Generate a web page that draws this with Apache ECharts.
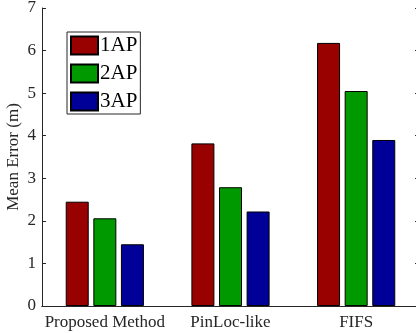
<!DOCTYPE html>
<html>
<head>
<meta charset="UTF-8">
<title></title>
<style>
	html, body { margin: 0; padding: 0; background: #fff; }
	#chart { width: 416px; height: 333px; }
</style>
<script src="https://cdn.jsdelivr.net/npm/echarts@6/dist/echarts.min.js"></script>
</head>
<body>
<div id="chart"></div>
<script>
	var categories = ['Proposed Method', 'PinLoc-like', 'FIFS'];
	var ap1 = [2.45, 3.82, 6.18];
	var ap2 = [2.06, 2.79, 5.05];
	var ap3 = [1.45, 2.22, 3.90];
	var seriesNames = ['1AP', '2AP', '3AP'];
	var colors = ['#990000', '#009900', '#000099'];

	var font = 'Liberation Serif';
	var ink = '#262626';

	function bar(name, data, color) {
		return {
			name: name,
			type: 'bar',
			data: data,
			barWidth: 23,
			barGap: '20%',
			itemStyle: { color: color, borderColor: '#000', borderWidth: 1 }
		};
	}

	var chart = echarts.init(document.getElementById('chart'));
	chart.setOption({
		animation: false,
		color: colors,
		grid: { left: 42, right: -3, top: 8, bottom: 27, outerBoundsMode: 'none', containLabel: false },
		legend: {
			orient: 'vertical',
			left: 67,
			top: 32,
			data: seriesNames,
			icon: 'rect',
			itemWidth: 27,
			itemHeight: 18,
			itemGap: 7,
			padding: [3, 3, 2, 3],
			borderColor: ink,
			borderWidth: 1,
			backgroundColor: '#fff',
			textStyle: { fontFamily: font, fontSize: 21, color: '#000', padding: [0, 0, 0, -3] }
		},
		xAxis: [
			{
				type: 'category',
				data: categories,
				position: 'bottom',
				axisLine: { lineStyle: { color: ink, width: 1 } },
				axisTick: { inside: true, alignWithLabel: true, length: 4, lineStyle: { color: ink } },
				axisLabel: { interval: 0, hideOverlap: false, fontFamily: font, fontSize: 17, color: ink, margin: 8 }
			},
			{
				type: 'category',
				data: categories,
				position: 'top',
				axisLine: { lineStyle: { color: ink, width: 1 } },
				axisTick: { inside: true, alignWithLabel: true, length: 4, lineStyle: { color: ink } },
				axisLabel: { show: false }
			}
		],
		yAxis: [
			{
				type: 'value',
				min: 0,
				max: 7,
				interval: 1,
				position: 'left',
				name: 'Mean Error (m)',
				nameLocation: 'middle',
				nameGap: 20,
				nameMoveOverlap: false,
				nameTextStyle: { fontFamily: font, fontSize: 17, color: ink },
				axisLine: { show: true, lineStyle: { color: ink, width: 1 } },
				axisTick: { show: true, inside: true, length: 4, lineStyle: { color: ink } },
				axisLabel: { fontFamily: font, fontSize: 17, color: ink, margin: 6 },
				splitLine: { show: false }
			},
			{
				type: 'value',
				min: 0,
				max: 7,
				interval: 1,
				position: 'right',
				axisLine: { show: true, lineStyle: { color: ink, width: 1 } },
				axisTick: { show: true, inside: true, length: 4, lineStyle: { color: ink } },
				axisLabel: { show: false },
				splitLine: { show: false }
			}
		],
		series: [
			bar(seriesNames[0], ap1, colors[0]),
			bar(seriesNames[1], ap2, colors[1]),
			bar(seriesNames[2], ap3, colors[2])
		]
	});
</script>
</body>
</html>
